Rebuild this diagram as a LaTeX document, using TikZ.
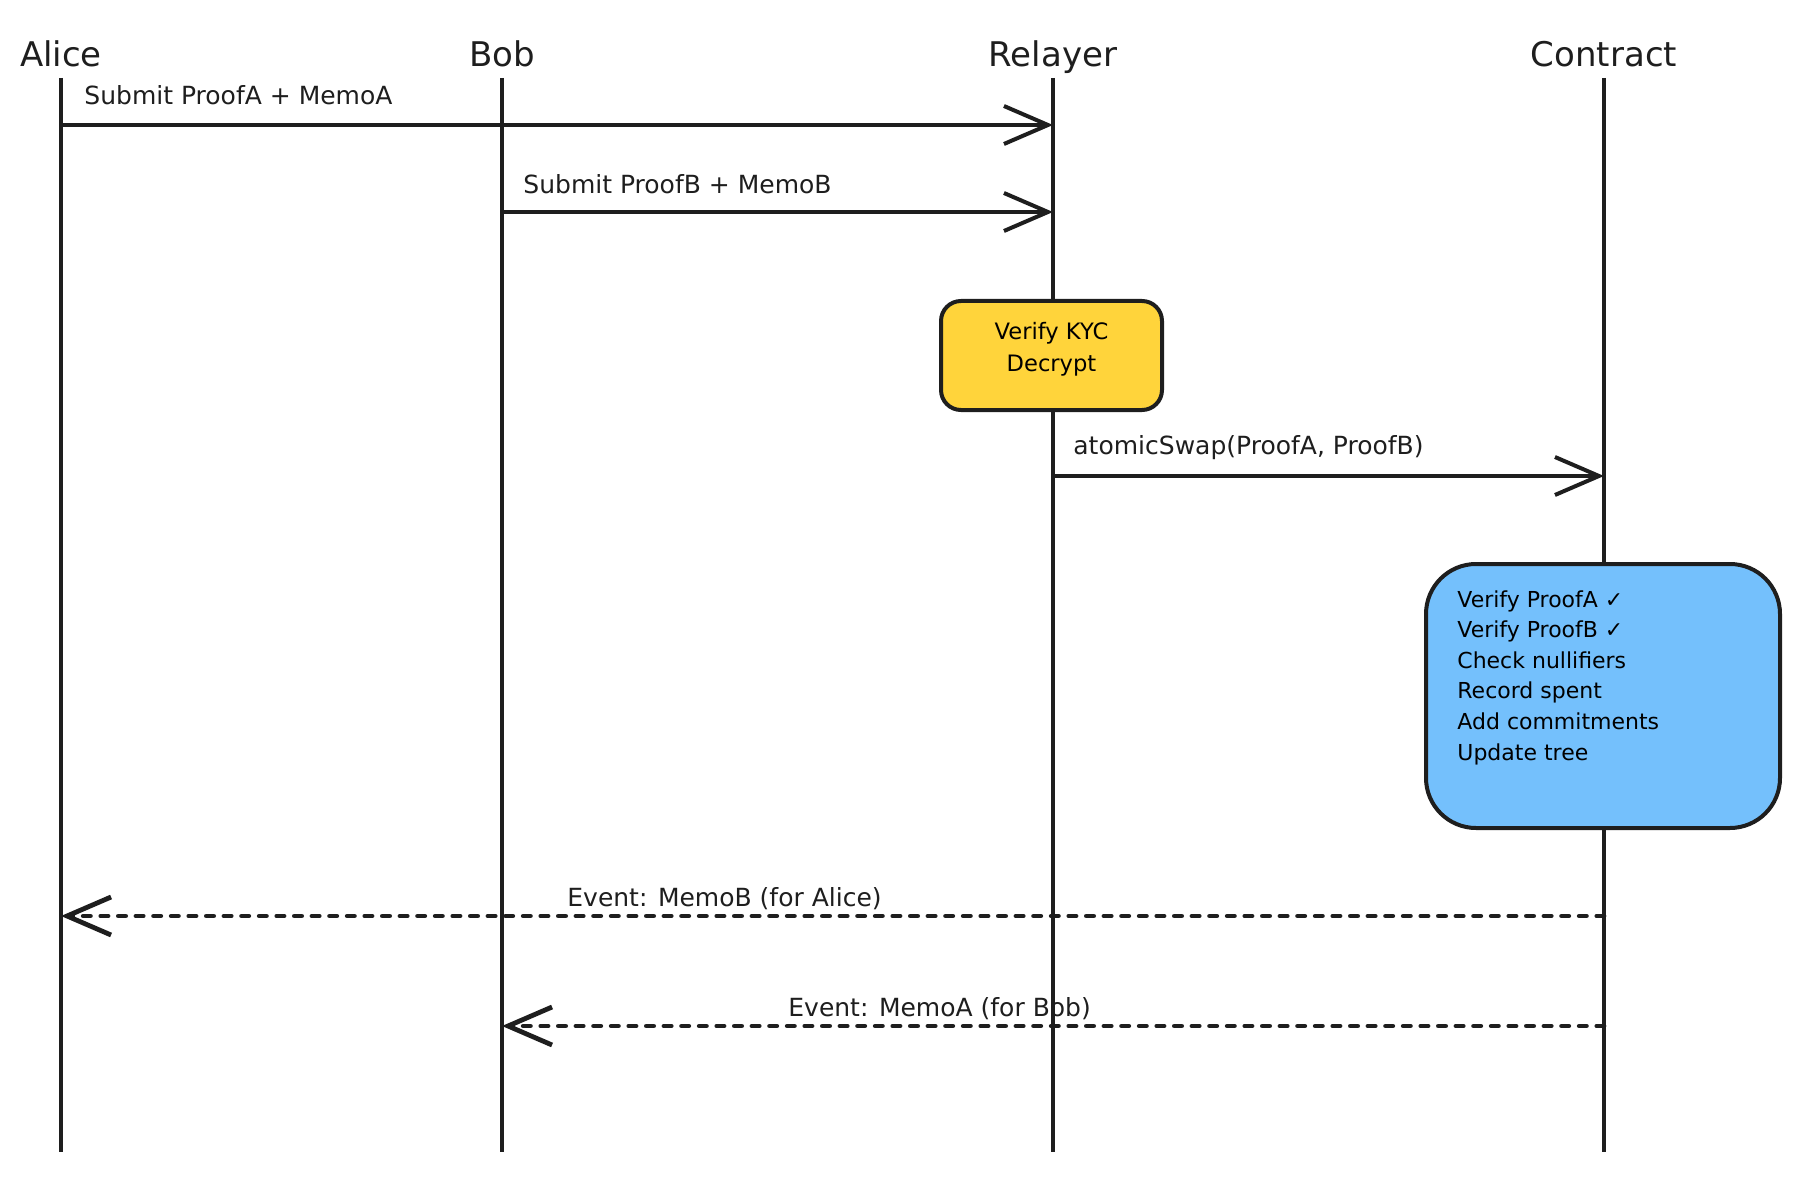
\documentclass[tikz,border=0pt]{standalone}
\usepackage{fontspec}
\setmainfont{DejaVu Sans}
\usepackage{tikz}
\usetikzlibrary{arrows.meta,positioning,calc}
\definecolor{inkblack}{HTML}{1E1E1E}
\definecolor{kycyellow}{HTML}{FFD43B}
\definecolor{swapblue}{HTML}{74C0FC}

\begin{document}
\begin{tikzpicture}[x=0.5pt,y=-0.5pt,
    actor/.style={anchor=base, font=\fontsize{17}{20}\selectfont, text=inkblack},
    lifeline/.style={draw=inkblack, line width=1.8pt},
    msg/.style={draw=inkblack, line width=2pt, -{Straight Barb[length=22pt,width=19pt]}},
    event/.style={msg, line width=2.4pt, line cap=round, dash pattern=on 3.6pt off 5.2pt},
    msglabel/.style={anchor=west, inner sep=0pt, font=\fontsize{12.5}{15}\selectfont, text=inkblack},
    stepbox/.style={draw=inkblack, line width=2pt, inner sep=0pt}]
    \useasboundingbox (0,0) rectangle (1800,1182);

    \foreach \n/\lbl/\x in {alice/Alice/61, bob/Bob/502, relayer/Relayer/1053, contract/Contract/1604} {
        \node[actor] (\n) at (\x,67) {\lbl};
        \coordinate (\n-top) at (\x,78);
        \coordinate (\n-bot) at (\x,1152);
        \draw[lifeline] (\n-top) -- (\n-bot);
    }

    \node[stepbox, fill=kycyellow, rounded corners=10pt, minimum width=110.5pt, minimum height=54.5pt] (kyc) at (1051.5,355.5) {};
    \node[align=center, inner sep=0pt, font=\fontsize{11.3}{16}\selectfont] (kyctext) at ($(kyc.center)+(0,-6)$) {Verify KYC\\Decrypt};

    \node[stepbox, fill=swapblue, rounded corners=25pt, minimum width=177pt, minimum height=132pt] (swap) at (1603,696) {};
    \node[anchor=north west, inner sep=0pt, align=left, font=\fontsize{11}{15.3}\selectfont] (checks) at ($(swap.north west)+(33,28)$) {
        Verify ProofA ✓\\
        Verify ProofB ✓\\
        Check nullifiers\\
        Record spent\\
        Add commitments\\
        Update tree};

    \coordinate (a1) at (alice-top |- 0,125);
    \coordinate (r1) at (relayer-top |- 0,125);
    \coordinate (b2) at (bob-top |- 0,212);
    \coordinate (r2) at (relayer-top |- 0,212);
    \coordinate (r3) at (relayer-top |- 0,476);
    \coordinate (c3) at (contract-top |- 0,476);
    \coordinate (c4) at (contract-top |- 0,916);
    \coordinate (a4) at (alice-top |- 0,916);
    \coordinate (c5) at (contract-top |- 0,1026);
    \coordinate (b5) at (bob-top |- 0,1026);

    \draw[msg] (a1) -- (r1);
    \node[msglabel] (submita) at (84,95) {Submit ProofA + MemoA};
    \draw[msg] (b2) -- (r2);
    \node[msglabel] (submitb) at (523,184) {Submit ProofB + MemoB};
    \draw[msg] (r3) -- (c3);
    \node[msglabel] (swapcall) at (1073,448) {atomicSwap(ProofA, ProofB)};
    \draw[event] (c4) -- (a4);
    \node[msglabel] (eventb) at (567,899) {Event: MemoB (for Alice)};
    \draw[event] (c5) -- (b5);
    \node[msglabel] (eventa) at (788,1009) {Event: MemoA (for Bob)};
\end{tikzpicture}
\end{document}
